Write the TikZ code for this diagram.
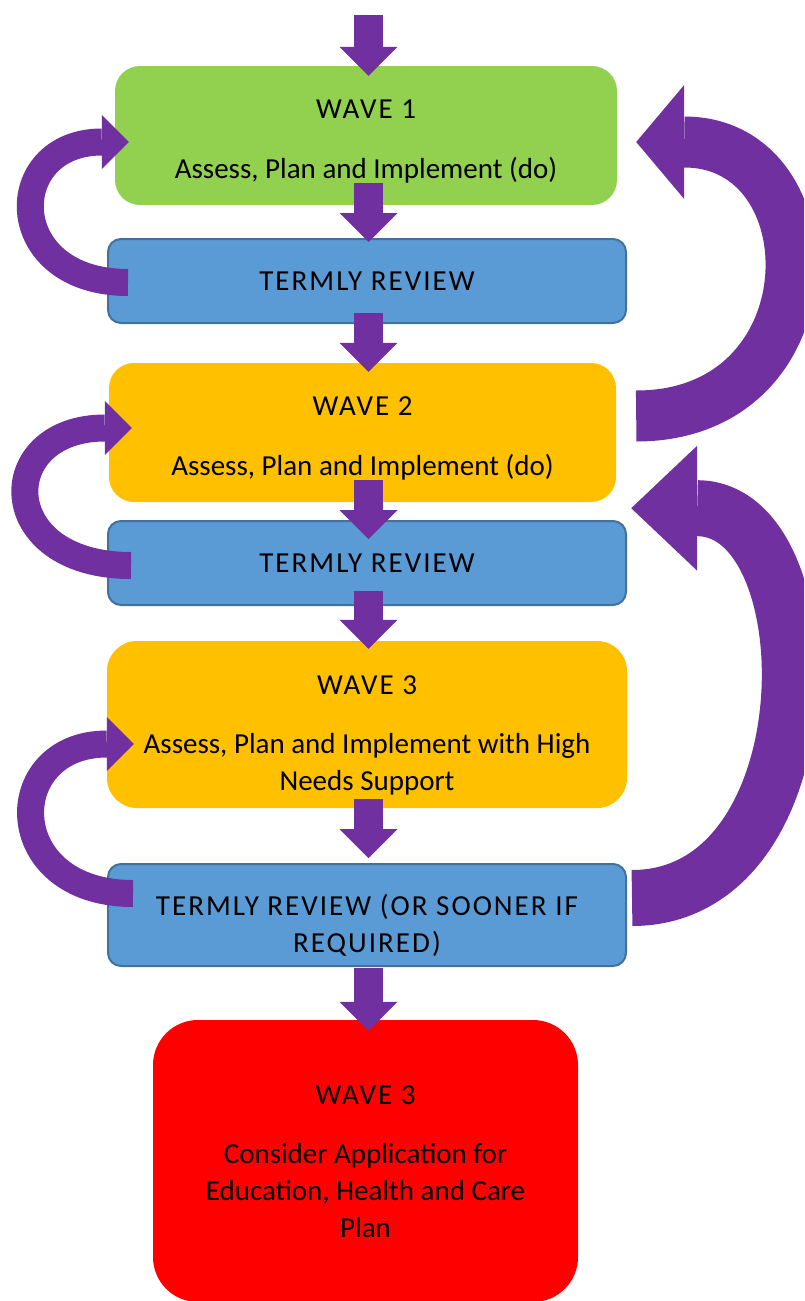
\documentclass[tikz,border=0pt]{standalone}
\usepackage{fontspec}
\setmainfont{Carlito}
\newfontfamily\capsfont[LetterSpace=7]{Carlito}
\usetikzlibrary{arrows.meta,calc}
\definecolor{grn}{HTML}{92D050}
\definecolor{blu}{HTML}{5B9BD5}
\definecolor{bluline}{HTML}{41719C}
\definecolor{gold}{HTML}{FFC000}
\definecolor{purp}{HTML}{7030A0}
\newcommand\headline[2]{\rule{0pt}{#1}{\capsfont #2}}
\tikzset{
  wave/.style={rounded corners=25pt,fill=#1,align=center,inner sep=0pt,font=\fontsize{29}{37}\selectfont},
  review/.style={wave=blu,rounded corners=13pt,draw=bluline,line width=2pt,minimum width=518pt},
  down/.style={purp,line width=29pt,-{Triangle[width=58pt,length=29pt,line width=0pt]}},
  back/.style args={#1/#2/#3}{purp,line width=#1,-{Triangle[width=#2,length=#3,line width=0pt]}},
}
\begin{document}
\begin{tikzpicture}[x=1pt,y=-1pt]
\useasboundingbox (0,0) rectangle (804,1301);
\clip (0,0) rectangle (804,1301);
%boxes
\node[wave=grn,minimum width=502pt,minimum height=139pt] (w1) at (366,135.5) {\headline{31pt}{WAVE 1}\\[23pt]Assess, Plan and Implement (do)};
\node[review,minimum height=84pt] (r1) at (367,281) {\capsfont TERMLY REVIEW};
\node[wave=gold,minimum width=507pt,minimum height=139pt] (w2) at (362.5,432.5) {\headline{31pt}{WAVE 2}\\[23pt]Assess, Plan and Implement (do)};
\node[review,minimum height=84pt] (r2) at (367,563) {\capsfont TERMLY REVIEW};
\node[wave=gold,rounded corners=30pt,minimum width=520pt,minimum height=167pt] (w3) at (367,724.5) {\headline{41pt}{WAVE 3}\\[22pt]Assess, Plan and Implement with High\\Needs Support};
\node[review,minimum height=102pt] (r3) at (367,915) {\headline{42pt}{TERMLY REVIEW (OR SOONER IF}\\{\capsfont REQUIRED)}};
\node[wave=red,rounded corners=45pt,minimum width=425pt,minimum height=282pt] (ep) at (365.5,1161) {\headline{21pt}{WAVE 3}\\[22pt]Consider Application for\\Education, Health and Care\\Plan};
%down arrows
\coordinate (top) at (368.5,15);
\draw[down,shorten >=-10pt] (top) -- (w1.north -| top);
\foreach \a/\b/\s/\e in {w1/r1/-22/-4,r1/w2/-11/-9,w2/r2/-22/-19,r2/w3/-15/-8,w3/r3/-9/5,r3/ep/1/-11}
  {\draw[down,shorten <=\s pt,shorten >=\e pt] (\a.south -| top) -- (\b.north -| top);}
%loops back
\draw[back=27pt/54pt/27pt] ($(r1.west)+(21,1.5)$) to[out=180,in=180,looseness=2.29] ($(w1.west)+(14,6.5)$);
\draw[back=27pt/54pt/27pt] ($(r2.west)+(24,2.5)$) to[out=180,in=180,looseness=2.55] ($(w2.west)+(23,-4.5)$);
\draw[back=27pt/54pt/27pt] ($(r3.west)+(26,-21.5)$) to[out=180,in=180,looseness=2.26] ($(w3.west)+(27,19.5)$);
\draw[back=51pt/114pt/48pt] ($(w2.east)+(20,-16.5)$) to[out=0,in=0,looseness=1.85] ($(w1.east)+(19,6.5)$);
\draw[back=56pt/125pt/66pt] ($(r3.east)+(5,-17)$) to[out=0,in=0,looseness=1.30] ($(w2.south east)+(15,6)$);
\end{tikzpicture}
\end{document}
